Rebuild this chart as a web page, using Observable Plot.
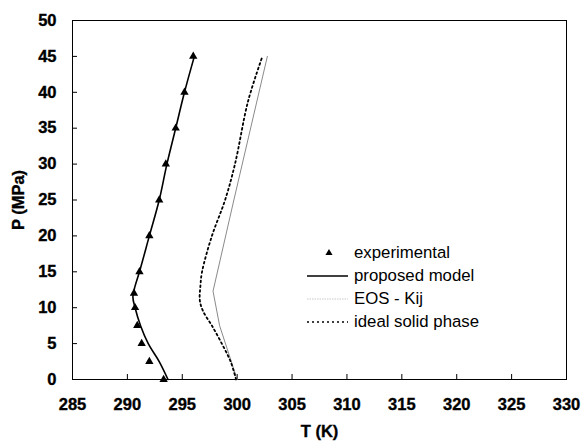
<!DOCTYPE html>
<html>
<head>
<meta charset="utf-8">
<script src="https://cdn.jsdelivr.net/npm/d3@7"></script>
<script src="https://cdn.jsdelivr.net/npm/@observablehq/plot@0.6"></script>
<style>
  html, body { margin: 0; padding: 0; background: #fff; }
  #chart { position: relative; width: 581px; height: 445px; }
  #chart svg text { font-family: 'Liberation Sans', Arial, sans-serif !important; font-weight: 700 !important; font-size: 16.5px !important; fill: #000 !important; stroke: #000; stroke-width: 0.35px; }
  #chart svg text.legend-text { font-weight: 400 !important; font-size: 16.8px !important; stroke: none; }
</style>
</head>
<body>
<div id="chart"></div>
<script>
// ---- data ----
const xTicks = [285, 290, 295, 300, 305, 310, 315, 320, 325, 330];
const yTicks = [0, 5, 10, 15, 20, 25, 30, 35, 40, 45, 50];

// experimental points
const expT = [296.0, 295.2, 294.4, 293.5, 292.9, 292.0, 291.1, 290.6, 290.7, 290.9, 291.3, 292.0, 293.3];
const expP = [45, 40, 35, 30, 25, 20, 15, 12, 10, 7.5, 5, 2.5, 0];

// proposed model
const modelT = [293.7, 292.9, 291.9, 291.2, 290.7, 290.5, 290.7, 291.1, 292.0, 292.9, 293.6, 294.4, 295.2, 296.1];
const modelP = [0, 2.5, 5, 7.5, 10, 11.5, 13, 15, 20, 25, 30, 35, 40, 45];

// EOS - Kij
const eosT = [300.0, 298.4, 297.8, 299.7, 302.75];
const eosP = [0, 7.5, 12.3, 25, 45];

// ideal solid phase
const idealT = [299.9, 299.4, 298.6, 297.7, 296.9, 296.6, 296.65, 296.8, 297.7, 298.9, 299.8, 301.0, 302.3];
const idealP = [0, 2.5, 5, 7.5, 9.5, 11, 13, 15, 20, 25, 30, 38.8, 45];

const legendLabels = ["experimental", "proposed model", "EOS - Kij", "ideal solid phase"];

// ---- build ----
const toRows = (xs, ys) => xs.map((x, i) => ({T: x, P: ys[i]}));
const exp = toRows(expT, expP);
const model = toRows(modelT, modelP);
const eos = toRows(eosT, eosP);
const ideal = toRows(idealT, idealP);

const W = 581, H = 445, mL = 72, mR = 15, mT = 20, mB = 66;
const innerW = W - mL - mR, innerH = H - mT - mB;
const FONT = "'Liberation Sans', Arial, sans-serif";

const chart = Plot.plot({
  width: W,
  height: H,
  marginLeft: mL,
  marginRight: mR,
  marginTop: mT,
  marginBottom: mB,
  style: {fontFamily: FONT, fontSize: "16.5px", fontWeight: "bold"},
  x: {domain: [285, 330]},
  y: {domain: [0, 50]},
  marks: [
    Plot.axisX({ticks: xTicks, tickSize: 0, tickPadding: 19, fontWeight: "bold", fontSize: 16.5,
      label: "T (K)", labelAnchor: "center", labelOffset: 57, labelArrow: "none"}),
    Plot.axisY({ticks: yTicks, tickSize: 0, tickPadding: 16, fontWeight: "bold", fontSize: 16.5,
      label: "P (MPa)", labelAnchor: "center", labelOffset: 60, labelArrow: "none"}),
    Plot.frame({stroke: "#000", strokeWidth: 1}),
    Plot.tickX(xTicks, {x: d => d, insetTop: innerH - 5, stroke: "#000"}),
    Plot.tickY(yTicks, {y: d => d, insetRight: innerW - 5, stroke: "#000"}),
    Plot.line(eos, {x: "T", y: "P", stroke: "#8a8a8a", strokeWidth: 1}),
    Plot.line(ideal, {x: "T", y: "P", stroke: "#000", strokeWidth: 1.8, strokeDasharray: "1.8,3", curve: "catmull-rom"}),
    Plot.line(model, {x: "T", y: "P", stroke: "#000", strokeWidth: 1.6, curve: "catmull-rom"}),
    Plot.dot(exp, {x: "T", y: "P", symbol: "triangle", r: 3.1, fill: "#000", stroke: "none"})
  ]
});
document.getElementById("chart").appendChild(chart);

const svg = d3.select(chart);

// ---- legend (inside plot area) ----
const lg = svg.append("g").attr("text-anchor", "start");
const lx = 307, ltx = 354, ly0 = 252, ldy = 23;
legendLabels.forEach((lab, i) => {
  const y = ly0 + i * ldy;
  if (i === 0) {
    lg.append("path").attr("d", d3.symbol(d3.symbolTriangle, 22)()).attr("transform", `translate(329,${y + 1})`).attr("fill", "#000");
  } else if (i === 1) {
    lg.append("line").attr("x1", lx).attr("x2", 348).attr("y1", y + 1).attr("y2", y + 1).attr("stroke", "#000").attr("stroke-width", 1.3);
  } else if (i === 2) {
    lg.append("line").attr("x1", lx).attr("x2", 348).attr("y1", y + 1).attr("y2", y + 1).attr("stroke", "#c8c8c8").attr("stroke-width", 1).attr("stroke-dasharray", "1.5,1");
  } else {
    lg.append("line").attr("x1", lx).attr("x2", 348).attr("y1", y + 1).attr("y2", y + 1).attr("stroke", "#000").attr("stroke-width", 1.3).attr("stroke-dasharray", "2,3");
  }
  lg.append("text").attr("class", "legend-text").attr("x", ltx).attr("y", y).attr("dy", "0.35em")
    .attr("text-anchor", "start")
    .text(lab);
});
</script>
</body>
</html>
